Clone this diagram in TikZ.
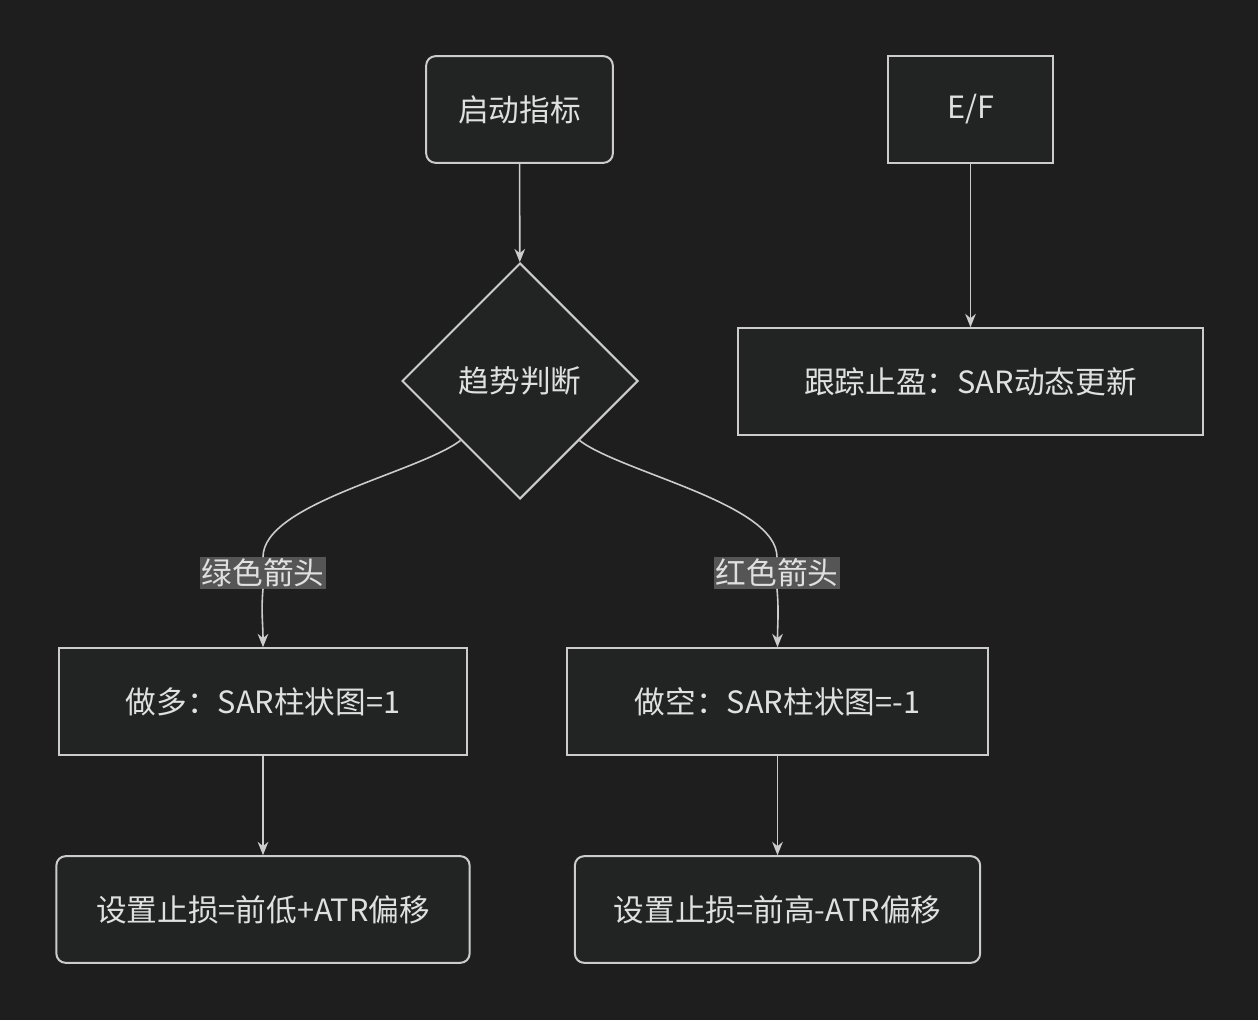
\documentclass[tikz,border=0pt]{standalone}
\usepackage{fontspec}
\setmainfont{Noto Sans CJK SC}
\usetikzlibrary{shapes.geometric,arrows.meta}
\definecolor{bgc}{HTML}{1E1E1E}
\definecolor{boxc}{HTML}{222424}
\definecolor{linec}{HTML}{CCCCCC}
\definecolor{txtc}{HTML}{E0E0E0}
\definecolor{lblc}{HTML}{555555}
\tikzset{
  box/.style={draw=linec,fill=boxc,line width=1.5pt,text=txtc,font=\fontsize{23}{27}\selectfont,minimum height=80pt,inner sep=0pt},
  rbox/.style={box,rounded corners=7pt},
  dec/.style={box,diamond,aspect=1,minimum width=177pt,minimum height=177pt},
  lbl/.style={fill=lblc,text=txtc,font=\fontsize{23}{27}\selectfont,inner sep=1pt},
  arr/.style={draw=linec,line width=1.2pt,-{Stealth[length=10pt,width=8pt]}}
}
\begin{document}
\begin{tikzpicture}[x=0.75pt,y=-0.75pt]
\fill[bgc] (0,0) rectangle (1258,1020);
\useasboundingbox (0,0) rectangle (1258,1020);

\node[rbox,minimum width=140pt] (start) at (519.5,109.5) {启动指标};
\node[dec] (trend) at (520,381) {趋势判断};
\node[box,minimum width=124pt] (ef) at (970.5,109.5) {E/F};
\node[box,minimum width=349pt] (trail) at (970.5,381.5) {跟踪止盈：SAR动态更新};
\node[box,minimum width=306pt] (long) at (263,701.5) {做多：SAR柱状图=1};
\node[box,minimum width=316pt] (short) at (777.5,701.5) {做空：SAR柱状图=-1};
\node[rbox,minimum width=310pt] (stopL) at (263,909.5) {设置止损=前低+ATR偏移};
\node[rbox,minimum width=304pt] (stopR) at (777.5,909.5) {设置止损=前高-ATR偏移};
\node[lbl] (green) at (263,573) {绿色箭头};
\node[lbl] (red) at (777,573) {红色箭头};

\draw[arr] (start) -- (trend);
\draw[arr] (ef) -- (trail);
\draw[draw=linec,line width=1.2pt] (trend.south west) to[out=-143,in=90,looseness=0.6] (green.north);
\draw[draw=linec,line width=1.2pt] (trend.south east) to[out=-37,in=90,looseness=0.6] (red.north);
\draw[arr] (green.south) to[out=-95,in=90] (long.north);
\draw[arr] (red.south) to[out=-85,in=90] (short.north);
\draw[arr] (long) -- (stopL);
\draw[arr] (short) -- (stopR);
\end{tikzpicture}
\end{document}
